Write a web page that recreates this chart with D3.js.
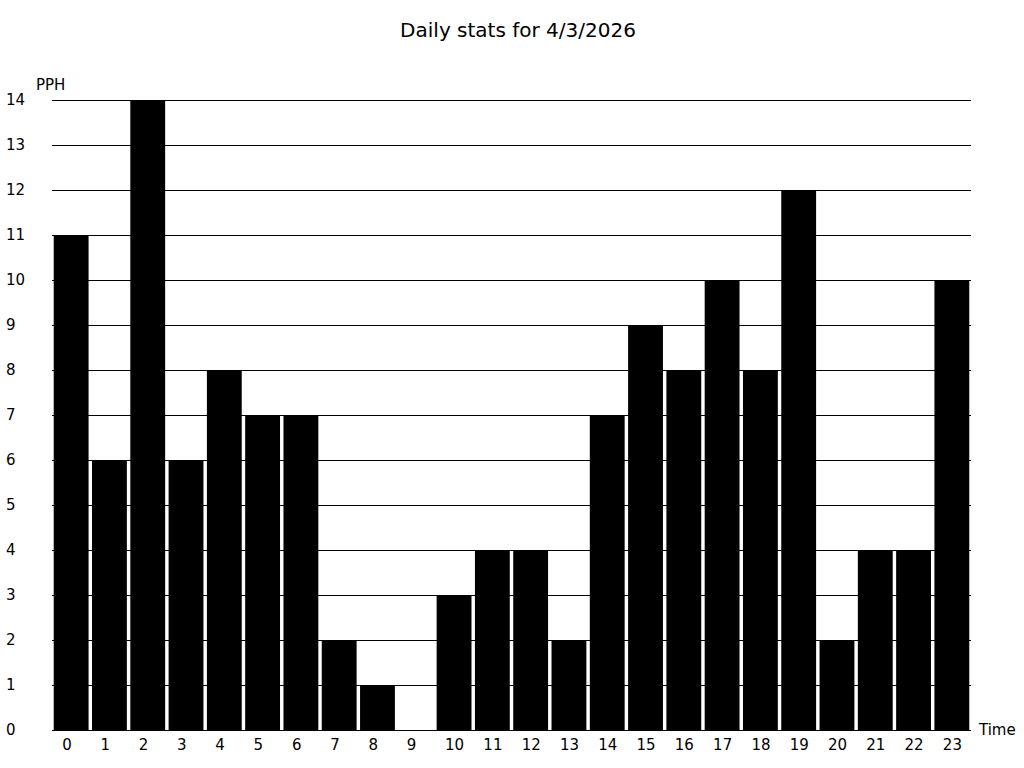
<!DOCTYPE html>
<html>
<head>
<meta charset="utf-8">
<script src="https://cdn.jsdelivr.net/npm/d3@7"></script>
<style>
  body { margin: 0; background: #fff; }
  text { font-family: "DejaVu Sans", sans-serif; fill: #000; }
</style>
</head>
<body>
<div id="chart"></div>
<script>
// data
var hours = d3.range(0, 24).map(String);
var pph = [11, 6, 14, 6, 8, 7, 7, 2, 1, 0, 3, 4, 4, 2, 7, 9, 8, 10, 8, 12, 2, 4, 4, 10];
var yTicks = d3.range(0, 15);
var title = "Daily stats for 4/3/2026";

var svgWidth = 1024;
var svgHeight = 768;

var svg = d3.select("#chart")
  .append("svg")
  .attr("width", svgWidth)
  .attr("height", svgHeight);

var x = d3.scaleBand()
  .domain(hours)
  .range([52, 971])
  .paddingInner(0.09)
  .paddingOuter(0.045);

var y = d3.scaleLinear()
  .domain([0, 14])
  .range([730, 100]);

// grid lines
svg.append("g").selectAll("line")
  .data(yTicks)
  .enter()
  .append("line")
  .attr("x1", 52)
  .attr("x2", 971)
  .attr("y1", d => Math.round(y(d)) + 0.5)
  .attr("y2", d => Math.round(y(d)) + 0.5)
  .attr("stroke", "#000")
  .attr("stroke-width", 1);

// y labels
svg.append("g").selectAll("text")
  .data(yTicks)
  .enter()
  .append("text")
  .attr("x", 6)
  .attr("y", d => y(d))
  .attr("dy", "0.36em")
  .style("font-size", "15px")
  .text(d => d);

// bars
svg.append("g").selectAll("rect")
  .data(pph)
  .enter()
  .append("rect")
  .attr("x", (d, i) => x(hours[i]))
  .attr("y", d => y(d))
  .attr("width", x.bandwidth())
  .attr("height", d => y(0) - y(d))
  .attr("fill", "#000");

// x labels (left aligned a little before the bar centre)
svg.append("g").selectAll("text")
  .data(hours)
  .enter()
  .append("text")
  .attr("x", d => x(d) + x.bandwidth() / 2 - 9)
  .attr("y", 745)
  .attr("dy", "0.36em")
  .style("font-size", "15px")
  .text(d => d);

// axis names
svg.append("text")
  .attr("x", 36)
  .attr("y", 85)
  .attr("dy", "0.36em")
  .style("font-size", "15px")
  .text("PPH");

svg.append("text")
  .attr("x", 979)
  .attr("y", 730)
  .attr("dy", "0.36em")
  .style("font-size", "15px")
  .text("Time");

svg.append("text")
  .attr("x", 518)
  .attr("y", 30)
  .attr("dy", "0.36em")
  .attr("text-anchor", "middle")
  .style("font-size", "20px")
  .text(title);
</script>
</body>
</html>
